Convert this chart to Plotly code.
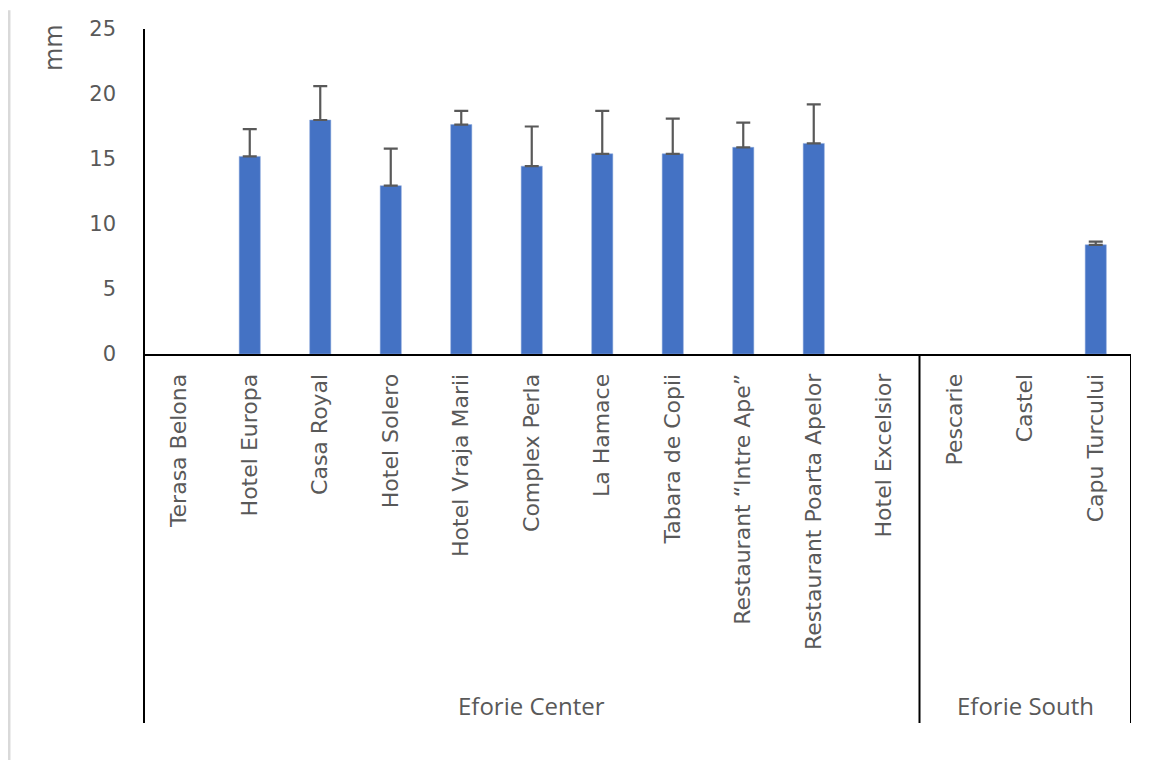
import plotly.graph_objects as go

# ---- data ----
groups = ["Eforie Center"] * 11 + ["Eforie South"] * 3
sites = [
    "Terasa Belona", "Hotel Europa", "Casa Royal", "Hotel Solero",
    "Hotel Vraja Marii", "Complex Perla", "La Hamace", "Tabara de Copii",
    "Restaurant \u201cIntre Ape\u201d", "Restaurant Poarta Apelor", "Hotel Excelsior",
    "Pescarie", "Castel", "Capu Turcului",
]
means = [None, 15.2, 18.0, 12.95, 17.65, 14.45, 15.4, 15.4, 15.9, 16.2, None, None, None, 8.4]
errors = [None, 2.1, 2.6, 2.85, 1.05, 3.05, 3.3, 2.7, 1.9, 3.0, None, None, None, 0.25]
y_ticks = [0, 5, 10, 15, 20, 25]
y_title = "mm"

GREY = "#595959"
n = len(sites)
idx = list(range(n))

fig = go.Figure()
fig.add_trace(go.Bar(
    x=idx, y=means,
    marker=dict(color="#4472C4", line=dict(color="#8faadc", width=0.5)),
    error_y=dict(type="data", symmetric=False, array=errors,
                 arrayminus=[0 if e is not None else None for e in errors],
                 color=GREY, thickness=2.2, width=7),
    showlegend=False,
))

bottom = -1.135  # paper y of the lower end of the category frame

shapes = []
# y axis line extended through label area
shapes.append(dict(type="line", xref="paper", yref="paper", x0=0, x1=0, y0=bottom, y1=1,
                   line=dict(color="black", width=2)))
# group dividers
group_names = []
for i, g in enumerate(groups):
    if not group_names or group_names[-1][0] != g:
        group_names.append([g, i, i])
    else:
        group_names[-1][2] = i
for g, s, e in group_names:
    shapes.append(dict(type="line", xref="x", yref="paper", x0=e + 0.5, x1=e + 0.5,
                       y0=bottom, y1=0, line=dict(color="black", width=2)))
# faint page border on left
shapes.append(dict(type="line", xref="paper", yref="paper", x0=-0.1368, x1=-0.1368,
                   y0=-1.249, y1=1.058, line=dict(color="#d9d9d9", width=3)))

annotations = []
for g, s, e in group_names:
    annotations.append(dict(x=(s + e) / 2, xref="x", y=-1.083, yref="paper",
                            text=g, showarrow=False, xanchor="center", yanchor="middle",
                            font=dict(family="Open Sans", size=24, color=GREY)))
annotations.append(dict(x=-0.091, xref="paper", y=0.942, yref="paper", text=y_title,
                        textangle=-90, showarrow=False, xanchor="center", yanchor="middle",
                        font=dict(family="DejaVu Sans", size=24, color=GREY)))

fig.update_layout(
    width=1151, height=761,
    margin=dict(l=136, r=28, t=21, b=415, autoexpand=False),
    paper_bgcolor="white", plot_bgcolor="white",
    bargap=0.7,
    shapes=shapes, annotations=annotations,
    xaxis=dict(
        tickmode="array", tickvals=idx, ticktext=sites, tickangle=-90,
        range=[-0.5, n - 0.5], showgrid=False, zeroline=False,
        showline=True, linecolor="black", linewidth=2, ticks="",
        ticklabelstandoff=9,
        tickfont=dict(family="DejaVu Sans", size=22, color=GREY),
        automargin=False,
    ),
    yaxis=dict(
        range=[0, 25], tickvals=y_ticks, showgrid=False, zeroline=False,
        showline=False, ticks="", ticklabelstandoff=27,
        tickfont=dict(family="DejaVu Sans", size=21, color=GREY),
        automargin=False,
    ),
)

fig.write_html("out.html")
